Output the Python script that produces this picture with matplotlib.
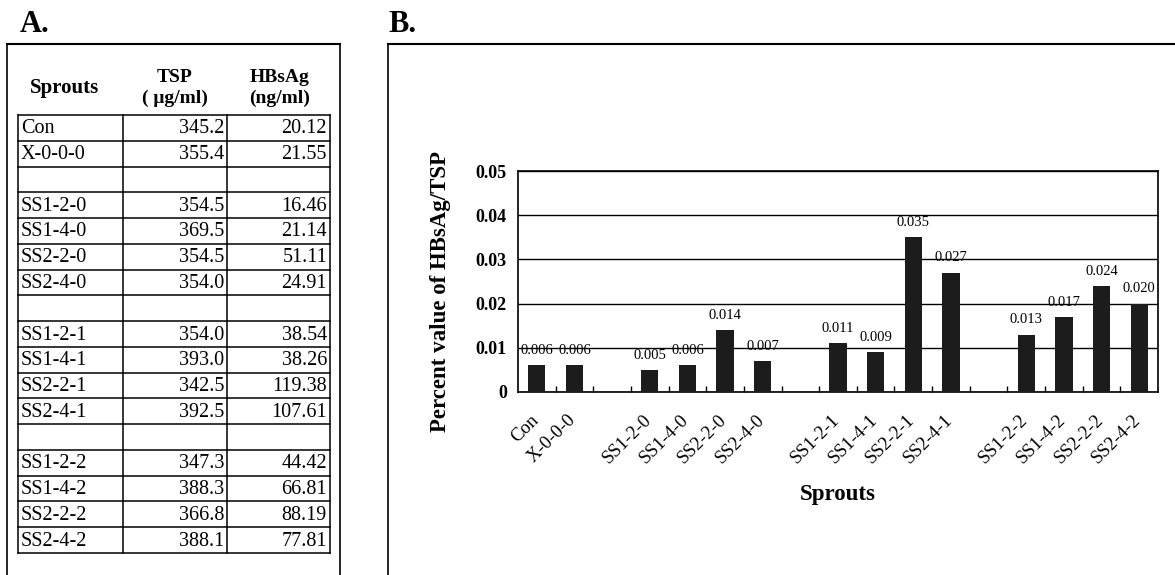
import numpy as np
import matplotlib
matplotlib.use("Agg")
import matplotlib.pyplot as plt
import matplotlib.transforms as mtransforms

plt.rcParams['font.family'] = ['Liberation Serif', 'DejaVu Serif']

# ---- data ----
sprouts = ["Con", "X-0-0-0", "", "SS1-2-0", "SS1-4-0", "SS2-2-0", "SS2-4-0", "",
           "SS1-2-1", "SS1-4-1", "SS2-2-1", "SS2-4-1", "",
           "SS1-2-2", "SS1-4-2", "SS2-2-2", "SS2-4-2"]
tsp = ["345.2", "355.4", "", "354.5", "369.5", "354.5", "354.0", "",
       "354.0", "393.0", "342.5", "392.5", "",
       "347.3", "388.3", "366.8", "388.1"]
hbsag = ["20.12", "21.55", "", "16.46", "21.14", "51.11", "24.91", "",
         "38.54", "38.26", "119.38", "107.61", "",
         "44.42", "66.81", "88.19", "77.81"]
percent = [0.006, 0.006, np.nan, 0.005, 0.006, 0.014, 0.007, np.nan,
           0.011, 0.009, 0.035, 0.027, np.nan,
           0.013, 0.017, 0.024, 0.020]
y_ticks = [0, 0.01, 0.02, 0.03, 0.04, 0.05]
y_tick_labels = ["0", "0.01", "0.02", "0.03", "0.04", "0.05"]

W, H = 1175, 575
fig = plt.figure(figsize=(W / 100, H / 100), dpi=100)

# overlay axes in pixel coordinates for frames and table
ov = fig.add_axes([0, 0, 1, 1], zorder=0)
ov.set_xlim(0, W)
ov.set_ylim(H, 0)
ov.axis('off')

lc = 'black'
# Panel labels
ov.text(20, 24, "A.", fontsize=22, fontweight='bold', va='center', ha='left')
ov.text(388, 24, "B.", fontsize=22, fontweight='bold', va='center', ha='left')

# Panel A frame
ov.plot([7, 7], [44, H], color=lc, lw=1.2)
ov.plot([340, 340], [44, H], color=lc, lw=1.2)
ov.plot([7, 340], [44, 44], color=lc, lw=1.5)
# Panel B frame
ov.plot([388, 388], [44, H], color=lc, lw=1.2)
ov.plot([388, W], [44, 44], color=lc, lw=1.5)

# Table header
ov.text(65, 88, "Sprouts", fontsize=15, fontweight='bold', ha='center', va='center')
ov.text(175, 78, "TSP", fontsize=14, fontweight='bold', ha='center', va='center')
ov.text(175, 98, "( μg/ml)", fontsize=14, fontweight='bold', ha='center', va='center')
ov.text(280, 78, "HBsAg", fontsize=14, fontweight='bold', ha='center', va='center')
ov.text(280, 98, "(ng/ml)", fontsize=14, fontweight='bold', ha='center', va='center')

# Table grid
x0, x1, x2, x3 = 18, 123, 227, 330
top, bottom = 115, 553
nrows = len(sprouts)
rh = (bottom - top) / nrows
for i in range(nrows + 1):
    y = top + i * rh
    ov.plot([x0, x3], [y, y], color=lc, lw=1.1)
for x in (x0, x1, x2, x3):
    ov.plot([x, x], [top, bottom], color=lc, lw=1.1)
for i in range(nrows):
    yc = top + (i + 0.5) * rh
    ov.text(x0 + 3, yc + 1, sprouts[i], fontsize=14.5, ha='left', va='center')
    ov.text(x2 - 3, yc + 1, tsp[i], fontsize=14.5, ha='right', va='center')
    ov.text(x3 - 3, yc + 1, hbsag[i], fontsize=14.5, ha='right', va='center')

# ---- bar chart ----
L, R, T, B = 518, 1158, 171, 392
ax = fig.add_axes([L / W, (H - B) / H, (R - L) / W, (B - T) / H], zorder=2)
ax.patch.set_alpha(0)
x = np.arange(len(sprouts))
vals = np.array(percent, dtype=float)
mask = ~np.isnan(vals)
ax.bar(x[mask], vals[mask], width=0.46, color='#1c1c1c', zorder=3)
for xi, v in zip(x[mask], vals[mask]):
    ax.annotate(f"{v:.3f}", (xi, v), xytext=(0, 6), textcoords='offset points',
                ha='center', va='bottom', fontsize=10.5, zorder=4)

ax.set_xlim(-0.5, len(sprouts) - 0.5)
ax.set_ylim(0, 0.05)
ax.set_yticks(y_ticks)
ax.set_yticklabels(y_tick_labels, fontsize=13, fontweight='bold')
ax.tick_params(axis='y', length=0, pad=8)
ax.yaxis.grid(True, color='black', lw=1.0, zorder=1)
ax.set_axisbelow(True)

ax.set_xticks(x)
ax.set_xticklabels(sprouts, rotation=45, ha='right', va='top',
                   rotation_mode='anchor', fontsize=13.5)
ax.tick_params(axis='x', length=0, pad=14)
ax.set_xticks(np.arange(0.5, len(sprouts) - 0.5, 1.0), minor=True)
ax.tick_params(axis='x', which='minor', direction='in', length=4, width=1)
shift = mtransforms.ScaledTranslation(-7 / 100, 0, fig.dpi_scale_trans)
for lab in ax.get_xticklabels():
    lab.set_transform(lab.get_transform() + shift)

for s in ax.spines.values():
    s.set_color('black')
    s.set_linewidth(1.2)

ax.set_ylabel("Percent value of HBsAg/TSP", fontsize=16.5, fontweight='bold')
ax.yaxis.set_label_coords(-0.105, 0.457)
ax.set_xlabel("Sprouts", fontsize=16.5, fontweight='bold', labelpad=12)

fig.savefig("out.png", dpi=100)
